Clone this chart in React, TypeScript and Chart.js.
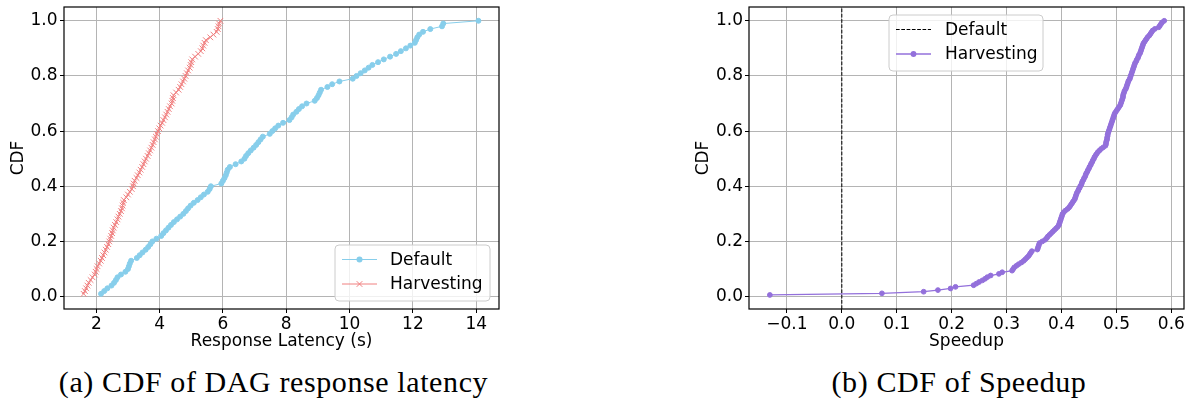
import React, { useEffect, useRef } from "react";
import { Chart, registerables } from "chart.js";

Chart.register(...registerables);

// Sorted end-to-end response latency (s) of each DAG, one value per DAG.
const defaultLatency = [
  2.15, 2.25, 2.35, 2.48, 2.56, 2.62, 2.67, 2.78, 2.92, 3.0,
  3.03, 3.06, 3.1, 3.28, 3.37, 3.46, 3.56, 3.64, 3.71, 3.77,
  3.9, 4.05, 4.12, 4.2, 4.28, 4.36, 4.45, 4.55, 4.65, 4.75,
  4.83, 4.9, 4.98, 5.08, 5.2, 5.3, 5.4, 5.52, 5.58, 5.62,
  5.95, 6.0, 6.05, 6.09, 6.12, 6.15, 6.22, 6.4, 6.58, 6.68,
  6.73, 6.8, 6.88, 6.97, 7.05, 7.12, 7.19, 7.26, 7.48, 7.56,
  7.65, 7.75, 7.9, 8.1, 8.17, 8.22, 8.32, 8.4, 8.5, 8.64,
  8.9, 8.97, 9.02, 9.06, 9.1, 9.3, 9.45, 9.68, 10.1, 10.22,
  10.35, 10.48, 10.6, 10.72, 10.9, 11.08, 11.28, 11.47, 11.62, 11.78,
  11.92, 12.06, 12.1, 12.14, 12.2, 12.32, 12.55, 12.92, 12.96, 14.07,
];

const harvestingLatency = [
  1.6, 1.64, 1.68, 1.72, 1.76, 1.82, 1.88, 1.95, 1.98, 2.01,
  2.04, 2.09, 2.14, 2.18, 2.22, 2.26, 2.3, 2.34, 2.38, 2.41,
  2.44, 2.47, 2.5, 2.52, 2.55, 2.59, 2.63, 2.67, 2.7, 2.74,
  2.78, 2.81, 2.83, 2.85, 2.87, 2.95, 3.0, 3.06, 3.12, 3.16,
  3.18, 3.21, 3.27, 3.31, 3.36, 3.4, 3.45, 3.49, 3.53, 3.57,
  3.62, 3.66, 3.7, 3.74, 3.78, 3.81, 3.85, 3.88, 3.91, 3.95,
  3.99, 4.03, 4.08, 4.12, 4.17, 4.21, 4.25, 4.29, 4.33, 4.38,
  4.4, 4.42, 4.44, 4.52, 4.6, 4.65, 4.69, 4.74, 4.78, 4.82,
  4.86, 4.9, 4.95, 4.98, 5.0, 5.03, 5.12, 5.22, 5.3, 5.35,
  5.38, 5.42, 5.46, 5.6, 5.7, 5.8, 5.84, 5.86, 5.88, 5.92,
];

// Sorted per-DAG speedup of Harvesting relative to Default.
const harvestingSpeedup = [
  -0.131, 0.073, 0.149, 0.175, 0.198, 0.207, 0.24, 0.245, 0.25, 0.256,
  0.261, 0.265, 0.271, 0.286, 0.292, 0.31, 0.312, 0.314, 0.318, 0.322,
  0.327, 0.331, 0.334, 0.337, 0.34, 0.342, 0.344, 0.346, 0.356, 0.357,
  0.358, 0.359, 0.36, 0.365, 0.37, 0.373, 0.375, 0.378, 0.381, 0.384,
  0.387, 0.39, 0.393, 0.395, 0.396, 0.397, 0.398, 0.399, 0.4, 0.401,
  0.402, 0.404, 0.407, 0.411, 0.414, 0.416, 0.418, 0.42, 0.422, 0.424,
  0.425, 0.426, 0.427, 0.428, 0.43, 0.431, 0.433, 0.434, 0.436, 0.437,
  0.438, 0.44, 0.441, 0.443, 0.444, 0.445, 0.447, 0.448, 0.45, 0.451,
  0.453, 0.454, 0.456, 0.457, 0.459, 0.46, 0.462, 0.464, 0.466, 0.469,
  0.472, 0.476, 0.48, 0.481, 0.481, 0.482, 0.483, 0.483, 0.484, 0.484,
  0.485, 0.486, 0.487, 0.488, 0.489, 0.49, 0.491, 0.492, 0.493, 0.494,
  0.495, 0.496, 0.497, 0.499, 0.501, 0.503, 0.505, 0.507, 0.508, 0.509,
  0.51, 0.511, 0.512, 0.512, 0.513, 0.514, 0.515, 0.517, 0.518, 0.519,
  0.52, 0.521, 0.522, 0.524, 0.525, 0.526, 0.527, 0.528, 0.529, 0.53,
  0.531, 0.532, 0.533, 0.534, 0.536, 0.537, 0.539, 0.54, 0.541, 0.543,
  0.544, 0.545, 0.546, 0.547, 0.548, 0.549, 0.551, 0.553, 0.555, 0.557,
  0.56, 0.562, 0.564, 0.566, 0.57, 0.577, 0.579, 0.581, 0.583, 0.587,
];

// Default is the reference: its speedup over itself is zero.
const defaultSpeedup = 0;

const latencyTicks = [2, 4, 6, 8, 10, 12, 14];
const speedupTicks = [-0.1, 0, 0.1, 0.2, 0.3, 0.4, 0.5, 0.6];
const cdfTicks = [0, 0.2, 0.4, 0.6, 0.8, 1.0];

const latencyRange = [0.98, 14.72];
const speedupRange = [-0.169, 0.623];
const cdfRange = [-0.045, 1.05];

const seriesNames = ["Default", "Harvesting"];
const captions = ["(a) CDF of DAG response latency", "(b) CDF of Speedup"];

const SKY = "#87CEEB";
const CORAL = "#F08080";
const PURPLE = "#9370DB";
const GRID = "#b4b4b4";
const FONT = { family: "'DejaVu Sans', sans-serif", size: 17 };

// Empirical CDF: i-th smallest of n samples sits at (i + 1) / n.
function toCdf(values: number[]) {
  const n = values.length;
  return values.map((x, i) => ({ x, y: (i + 1) / n }));
}

const fmtCdf = (v: number) => v.toFixed(1);
const fmtSpeedup = (v: number) => v.toFixed(1).replace("-", "\u2212");
const fmtLatency = (v: number) => String(v);

// Full box around the plotting area.
const framePlugin = {
  id: "frame",
  afterDatasetsDraw(chart: any) {
    const { ctx, chartArea: a } = chart;
    ctx.save();
    ctx.strokeStyle = "#000";
    ctx.lineWidth = 1.2;
    ctx.strokeRect(a.left, a.top, a.right - a.left, a.bottom - a.top);
    ctx.restore();
  },
};

// Boxed legend drawn inside the plotting area.
const boxLegendPlugin = {
  id: "boxLegend",
  afterDraw(chart: any, _args: any, opts: any) {
    if (!opts || opts.left === undefined) return;
    const { ctx } = chart;
    const { left, top, width, height } = opts;
    const r = 4;
    ctx.save();
    ctx.beginPath();
    ctx.moveTo(left + r, top);
    ctx.lineTo(left + width - r, top);
    ctx.arcTo(left + width, top, left + width, top + r, r);
    ctx.lineTo(left + width, top + height - r);
    ctx.arcTo(left + width, top + height, left + width - r, top + height, r);
    ctx.lineTo(left + r, top + height);
    ctx.arcTo(left, top + height, left, top + height - r, r);
    ctx.lineTo(left, top + r);
    ctx.arcTo(left, top, left + r, top, r);
    ctx.closePath();
    ctx.fillStyle = "rgba(255,255,255,0.8)";
    ctx.fill();
    ctx.strokeStyle = "#cccccc";
    ctx.lineWidth = 1;
    ctx.stroke();

    const entries = chart.data.datasets;
    entries.forEach((ds: any, i: number) => {
      const y = top + 14.5 + i * 24.5;
      const x0 = left + 7;
      const x1 = x0 + 35;
      const xm = (x0 + x1) / 2;
      ctx.strokeStyle = ds.borderColor;
      ctx.lineWidth = ds.borderWidth;
      ctx.setLineDash(ds.borderDash || []);
      ctx.beginPath();
      ctx.moveTo(x0, y);
      ctx.lineTo(x1, y);
      ctx.stroke();
      ctx.setLineDash([]);
      if (ds.pointRadius > 0) {
        if (ds.pointStyle === "crossRot") {
          const d = ds.pointRadius * Math.SQRT1_2;
          ctx.strokeStyle = ds.pointBorderColor;
          ctx.lineWidth = ds.pointBorderWidth;
          ctx.beginPath();
          ctx.moveTo(xm - d, y - d);
          ctx.lineTo(xm + d, y + d);
          ctx.moveTo(xm - d, y + d);
          ctx.lineTo(xm + d, y - d);
          ctx.stroke();
        } else {
          ctx.fillStyle = ds.pointBackgroundColor;
          ctx.beginPath();
          ctx.arc(xm, y, ds.pointRadius + ds.pointBorderWidth / 2, 0, Math.PI * 2);
          ctx.fill();
        }
      }
      ctx.fillStyle = "#000";
      ctx.font = `${FONT.size}px ${FONT.family}`;
      ctx.textBaseline = "middle";
      ctx.textAlign = "left";
      ctx.fillText(ds.label, left + opts.textOffset, y + 1);
    });
    ctx.restore();
  },
};

function axis(
  range: number[],
  ticks: number[],
  fmt: (v: number) => string,
  title: string,
  isX: boolean,
  size: number,
  titlePad: number,
  labelPad: number
) {
  return {
    type: "linear",
    min: range[0],
    max: range[1],
    afterBuildTicks: (s: any) => {
      s.ticks = ticks.map((v) => ({ value: v }));
    },
    afterFit: (s: any) => {
      // fixed axis box; the layout padding alone sets the plot area
      if (isX) {
        s.height = size;
        s.paddingLeft = 0;
        s.paddingRight = 0;
      } else {
        s.width = size;
        s.paddingTop = 0;
        s.paddingBottom = 0;
      }
    },
    grid: {
      color: GRID,
      lineWidth: 1,
      drawTicks: true,
      tickLength: 4,
      tickColor: "#000",
      tickWidth: 1,
    },
    border: { display: false },
    ticks: {
      font: FONT,
      color: "#000",
      padding: labelPad,
      maxRotation: 0,
      autoSkip: false,
      callback: (v: number) => fmt(v),
    },
    title: {
      display: true,
      text: title,
      font: FONT,
      color: "#000",
      padding: isX ? { top: 0, bottom: titlePad } : { top: titlePad, bottom: 0 },
    },
  };
}

function CdfChart(props: {
  datasets: any[];
  xRange: number[];
  xTicks: number[];
  xFmt: (v: number) => string;
  xTitle: string;
  width: number;
  yAxisWidth: number;
  yTitlePad: number;
  yLabelPad: number;
  padRight: number;
  legend: any;
}) {
  const ref = useRef<HTMLCanvasElement | null>(null);
  useEffect(() => {
    if (!ref.current) return;
    const chart = new Chart(ref.current, {
      type: "scatter",
      data: { datasets: props.datasets },
      plugins: [framePlugin, boxLegendPlugin],
      options: {
        responsive: false,
        animation: false,
        devicePixelRatio: 1,
        events: [],
        layout: { padding: { left: 0, right: props.padRight, top: 7, bottom: 0 } },
        scales: {
          x: axis(props.xRange, props.xTicks, props.xFmt, props.xTitle, true, 51, 8, 1) as any,
          y: axis(cdfRange, cdfTicks, fmtCdf, "CDF", false, props.yAxisWidth, props.yTitlePad, props.yLabelPad) as any,
        },
        plugins: {
          legend: { display: false },
          tooltip: { enabled: false },
          boxLegend: props.legend,
        } as any,
      },
    } as any);
    return () => chart.destroy();
  }, []);
  return <canvas ref={ref} width={props.width} height={360} style={{ display: "block" }} />;
}

const lineStyle = (label: string, color: string, data: any[], pointStyle: string | false, extra: any = {}) => ({
  label,
  data,
  showLine: true,
  borderColor: color,
  backgroundColor: color,
  borderWidth: 1,
  tension: 0,
  pointStyle: pointStyle || "circle",
  pointRadius: pointStyle ? (pointStyle === "crossRot" ? 4 : 2.5) : 0,
  pointBackgroundColor: color,
  pointBorderColor: color,
  pointBorderWidth: 1,
  pointHoverRadius: 0,
  ...extra,
});

export default function App() {
  const latencyDatasets = [
    lineStyle(seriesNames[0], SKY, toCdf(defaultLatency), "circle"),
    lineStyle(seriesNames[1], CORAL, toCdf(harvestingLatency), "crossRot"),
  ];
  const speedupDatasets = [
    lineStyle(
      seriesNames[0],
      "#000",
      [
        { x: defaultSpeedup, y: cdfRange[0] },
        { x: defaultSpeedup, y: cdfRange[1] },
      ],
      false,
      { borderDash: [3.7, 1.6], order: 2 }
    ),
    lineStyle(seriesNames[1], PURPLE, toCdf(harvestingSpeedup), "circle", {
      borderWidth: 1.3,
      pointRadius: 2.4,
      order: 1,
    }),
  ];

  const captionStyle = (center: number): React.CSSProperties => ({
    position: "absolute",
    top: 367,
    left: center - 300,
    width: 600,
    textAlign: "center",
    fontFamily: "'Liberation Serif', serif",
    fontSize: 30,
    lineHeight: "30px",
    letterSpacing: "0.6px",
    color: "#000",
    whiteSpace: "nowrap",
  });

  return (
    <div
      style={{
        position: "absolute",
        left: 0,
        top: 0,
        width: 1189,
        height: 403,
        background: "#fff",
        overflow: "hidden",
      }}
    >
      <div style={{ position: "absolute", left: 0, top: 0 }}>
        <CdfChart
          datasets={latencyDatasets}
          xRange={latencyRange}
          xTicks={latencyTicks}
          xFmt={fmtLatency}
          xTitle="Response Latency (s)"
          width={520}
          yAxisWidth={64}
          yTitlePad={8}
          yLabelPad={2.5}
          padRight={21}
          legend={{ left: 335, top: 245, width: 155, height: 56, textOffset: 55 }}
        />
      </div>
      <div style={{ position: "absolute", left: 680, top: 0 }}>
        <CdfChart
          datasets={speedupDatasets}
          xRange={speedupRange}
          xTicks={speedupTicks}
          xFmt={fmtSpeedup}
          xTitle="Speedup"
          width={509}
          yAxisWidth={69}
          yTitlePad={13}
          yLabelPad={2}
          padRight={5}
          legend={{ left: 209, top: 15, width: 154, height: 56, textOffset: 56 }}
        />
      </div>
      <div style={captionStyle(273.5)}>{captions[0]}</div>
      <div style={captionStyle(959)}>{captions[1]}</div>
    </div>
  );
}
